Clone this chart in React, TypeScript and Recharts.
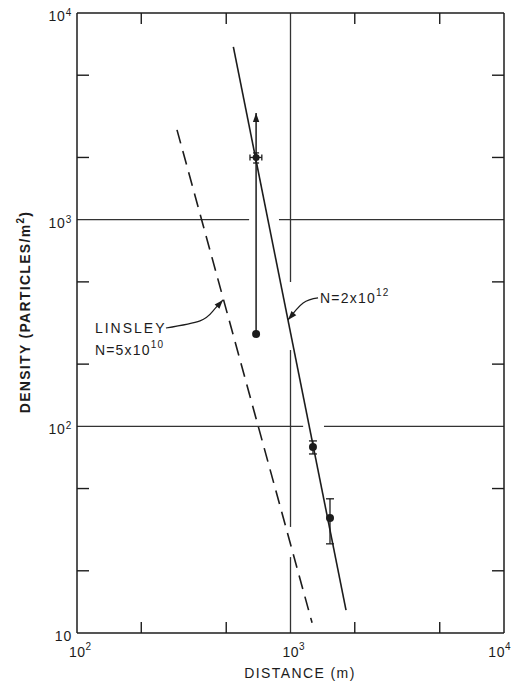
import React from 'react';
import { ComposedChart, Line, Scatter, XAxis, YAxis, ReferenceLine, ErrorBar } from 'recharts';

const INK = '#1c1c1c';
const FONT = '"Liberation Sans", Arial, sans-serif';

const xTicks = [100, 200, 500, 1000, 2000, 5000, 10000];
const yTicks = [10, 20, 50, 100, 200, 500, 1000, 2000, 5000, 10000];
const xDecadeSup: Record<number, string> = { 100: '2', 1000: '3', 10000: '4' };
const yDecadeSup: Record<number, string> = { 10: '', 100: '2', 1000: '3', 10000: '4' };

// fitted lateral distribution, N = 2x10^12
const fitLine = [
  { x: 540, y: 6850 },
  { x: 1820, y: 12.9 },
];
// Linsley, N = 5x10^10
const linsleyLine = [
  { x: 294, y: 2720 },
  { x: 1262, y: 11.2 },
];
// lower limit / upper arrow at the closest detector
const limitLink = [
  { x: 690, y: 2000 },
  { x: 690, y: 280 },
];
const upArrow = [
  { x: 690, y: 2000 },
  { x: 690, y: 3280 },
];
const nearPoint = [{ x: 690, y: 2000, ex: [44, 44], ey: [120, 104] }];
const lowPoint = [{ x: 690, y: 280 }];
const farPoints = [
  { x: 1274, y: 79.4, ey: [5.9, 5.6] },
  { x: 1531, y: 36, ey: [9, 8.6] },
];

// gridline pieces (broken where the curves cross)
const hGrid = [
  { y: 1000, from: 100, to: 640 },
  { y: 1000, from: 883, to: 10000 },
  { y: 100, from: 100, to: 1146 },
  { y: 100, from: 1435, to: 10000 },
];
const vGrid = [
  { x: 1000, from: 10000, to: 500 },
  { x: 1000, from: 234, to: 32.6 },
  { x: 1000, from: 23.3, to: 10 },
];

// annotation leaders
const leader2e12 = [
  { x: 1346, y: 418 },
  { x: 1146, y: 395 },
  { x: 973, y: 327 },
];
const leaderLinsley = [
  { x: 261, y: 299 },
  { x: 377, y: 324 },
  { x: 433, y: 361 },
  { x: 483, y: 409 },
];

const arrowHead = (angle: number) => (p: any) => (
  <polygon
    points="0,0 -9,-3.2 -9,3.2"
    fill={INK}
    transform={`translate(${p.cx},${p.cy}) rotate(${angle})`}
  />
);

const BottomTick = (props: any) => {
  const { x, y, payload } = props;
  const sup = xDecadeSup[payload.value];
  if (sup === undefined) {
    return <line x1={x} y1={y} x2={x} y2={y - 11} stroke={INK} strokeWidth={1.4} />;
  }
  // the last label has to stay inside the page edge
  const last = payload.value === 10000;
  return (
    <text
      x={last ? x + 7 : x - 8}
      y={y + 24}
      textAnchor={last ? 'end' : 'start'}
      fontSize={14}
      fill={INK}
      fontFamily={FONT}
      letterSpacing={0.5}
    >
      10<tspan dy={-7} fontSize={10}>{sup}</tspan>
    </text>
  );
};

const TopTick = (props: any) => {
  const { x, y, payload } = props;
  if (xDecadeSup[payload.value] !== undefined) return <g />;
  return <line x1={x} y1={y} x2={x} y2={y + 11} stroke={INK} strokeWidth={1.4} />;
};

const LeftTick = (props: any) => {
  const { x, y, payload } = props;
  const sup = yDecadeSup[payload.value];
  if (sup === undefined) {
    return <line x1={x} y1={y} x2={x + 12} y2={y} stroke={INK} strokeWidth={1.4} />;
  }
  return (
    <text x={x - 5} y={y + 8} textAnchor="end" fontSize={14} fill={INK} fontFamily={FONT} letterSpacing={0.8}>
      10{sup && <tspan dy={-5} fontSize={10}>{sup}</tspan>}
    </text>
  );
};

const RightTick = (props: any) => {
  const { x, y, payload } = props;
  if (yDecadeSup[payload.value] !== undefined) return <g />;
  return <line x1={x} y1={y} x2={x - 12} y2={y} stroke={INK} strokeWidth={1.4} />;
};

const dot = (r: number) => (p: any) => <circle cx={p.cx} cy={p.cy} r={r} fill={INK} />;

export default function App() {
  const ax = { xAxisId: 'b', yAxisId: 'l' };
  return (
    <div style={{ position: 'relative', width: 512, height: 675, background: '#fff' }}>
      <ComposedChart width={512} height={675} margin={{ top: 0, right: 0, bottom: 0, left: 0 }}>
        <XAxis
          xAxisId="b"
          dataKey="x"
          type="number"
          scale="log"
          domain={[100, 10000]}
          ticks={xTicks}
          interval={0}
          allowDataOverflow
          orientation="bottom"
          height={50}
          tickLine={false}
          tickSize={0}
          tickMargin={0}
          tick={BottomTick}
          axisLine={{ stroke: INK, strokeWidth: 1.5 }}
        />
        <XAxis
          xAxisId="t"
          dataKey="x"
          type="number"
          scale="log"
          domain={[100, 10000]}
          ticks={xTicks}
          interval={0}
          allowDataOverflow
          orientation="top"
          height={5}
          tickLine={false}
          tickSize={0}
          tickMargin={0}
          tick={TopTick}
          axisLine={{ stroke: INK, strokeWidth: 1.5 }}
        />
        <YAxis
          yAxisId="l"
          dataKey="y"
          type="number"
          scale="log"
          domain={[10, 10000]}
          ticks={yTicks}
          interval={0}
          allowDataOverflow
          orientation="left"
          width={69}
          tickLine={false}
          tickSize={0}
          tickMargin={0}
          tick={LeftTick}
          axisLine={{ stroke: INK, strokeWidth: 1.5 }}
        />
        <YAxis
          yAxisId="r"
          dataKey="y"
          type="number"
          scale="log"
          domain={[10, 10000]}
          ticks={yTicks}
          interval={0}
          allowDataOverflow
          orientation="right"
          width={16}
          tickLine={false}
          tickSize={0}
          tickMargin={0}
          tick={RightTick}
          axisLine={{ stroke: INK, strokeWidth: 1.5 }}
        />

        {hGrid.map((g, i) => (
          <ReferenceLine
            key={`h${i}`}
            {...ax}
            segment={[{ x: g.from, y: g.y }, { x: g.to, y: g.y }]}
            stroke="#333"
            strokeWidth={1.2}
          />
        ))}
        {vGrid.map((g, i) => (
          <ReferenceLine
            key={`v${i}`}
            {...ax}
            segment={[{ x: g.x, y: g.from }, { x: g.x, y: g.to }]}
            stroke="#333"
            strokeWidth={1.3}
          />
        ))}

        <Line {...ax} data={fitLine} dataKey="y" stroke={INK} strokeWidth={1.6} dot={false} isAnimationActive={false} />
        <Line
          {...ax}
          data={linsleyLine}
          dataKey="y"
          stroke={INK}
          strokeWidth={1.6}
          strokeDasharray="14 8"
          dot={false}
          isAnimationActive={false}
        />
        <Line {...ax} data={limitLink} dataKey="y" stroke={INK} strokeWidth={1.5} dot={false} isAnimationActive={false} />
        <Line {...ax} data={upArrow} dataKey="y" stroke={INK} strokeWidth={1.5} dot={false} isAnimationActive={false} />
        <Line
          {...ax}
          data={leader2e12}
          dataKey="y"
          type="natural"
          stroke={INK}
          strokeWidth={1.2}
          dot={false}
          isAnimationActive={false}
        />
        <Line
          {...ax}
          data={leaderLinsley}
          dataKey="y"
          type="natural"
          stroke={INK}
          strokeWidth={1.2}
          dot={false}
          isAnimationActive={false}
        />

        <Scatter {...ax} data={[upArrow[1]]} shape={arrowHead(-90)} isAnimationActive={false} />
        <Scatter {...ax} data={[leader2e12[2]]} shape={arrowHead(131)} isAnimationActive={false} />
        <Scatter {...ax} data={[leaderLinsley[3]]} shape={arrowHead(-48)} isAnimationActive={false} />

        <Scatter {...ax} data={nearPoint} shape={dot(3.5)} isAnimationActive={false}>
          <ErrorBar dataKey="ex" direction="x" width={3} stroke={INK} strokeWidth={1.3} />
          <ErrorBar dataKey="ey" direction="y" width={3} stroke={INK} strokeWidth={1.3} />
        </Scatter>
        <Scatter {...ax} data={lowPoint} shape={dot(4)} isAnimationActive={false} />
        <Scatter {...ax} data={farPoints} shape={dot(4)} isAnimationActive={false}>
          <ErrorBar dataKey="ey" direction="y" width={4} stroke={INK} strokeWidth={1.3} />
        </Scatter>

        <Scatter
          {...ax}
          data={[leader2e12[0]]}
          isAnimationActive={false}
          shape={(p: any) => (
            <text x={p.cx + 2} y={p.cy + 5} fontSize={14} fill={INK} fontFamily={FONT} letterSpacing={1.2}>
              N=2x10<tspan dy={-7} fontSize={10}>12</tspan>
            </text>
          )}
        />
        <Scatter
          {...ax}
          data={[leaderLinsley[0]]}
          isAnimationActive={false}
          shape={(p: any) => (
            <g fill={INK} fontFamily={FONT} fontSize={14} letterSpacing={2}>
              <text x={p.cx - 71} y={p.cy + 5}>LINSLEY</text>
              <text x={p.cx - 71} y={p.cy + 27} letterSpacing={1.2}>
                N=5x10<tspan dy={-7} fontSize={10}>10</tspan>
              </text>
            </g>
          )}
        />
      </ComposedChart>

      <svg
        width={512}
        height={675}
        style={{ position: 'absolute', left: 0, top: 0, pointerEvents: 'none' }}
      >
        <text x={292} y={670} textAnchor="middle" fontSize={14} fill={INK} fontFamily={FONT} letterSpacing={1.4}>
          DISTANCE (m)
        </text>
        <text
          transform="translate(22,304) rotate(-90)"
          textAnchor="middle"
          fontSize={14}
          fontWeight="bold"
          fill={INK}
          fontFamily={FONT}
          letterSpacing={1.3}
        >
          DENSITY (PARTICLES/m<tspan dy={-6} fontSize={10}>2</tspan>
          <tspan dy={6}>)</tspan>
        </text>
      </svg>
    </div>
  );
}
